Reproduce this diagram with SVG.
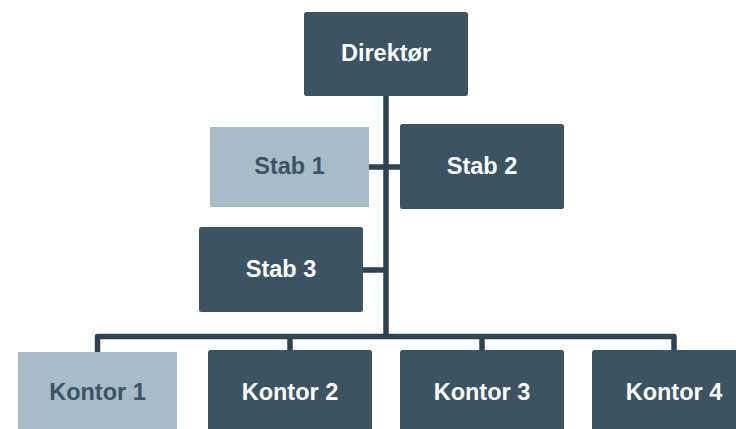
<svg xmlns="http://www.w3.org/2000/svg" width="736" height="429" viewBox="0 0 736 429">
  <style>
    .dark { fill: #3c5364; }
    .light { fill: #a7bccb; }
    .lbl { font-family: "Liberation Sans", Arial, sans-serif; font-weight: bold; font-size: 23.5px; text-anchor: middle; }
    .on-dark { fill: #ffffff; }
    .on-light { fill: #3c5364; }
    .wire { fill: none; stroke: #2e4351; stroke-width: 5.5; stroke-linejoin: round; stroke-linecap: butt; }
  </style>
  <rect width="736" height="429" fill="#ffffff"/>

  <!-- connectors -->
  <g id="connectors">
    <path class="wire" d="M386,96 V339"/>
    <path class="wire" d="M369,167 H400"/>
    <path class="wire" d="M363,270 H386"/>
    <path class="wire" d="M97.5,352 V336.5 H674 V350"/>
    <path class="wire" d="M290,336.5 V350"/>
    <path class="wire" d="M482,336.5 V350"/>
  </g>

  <g id="direktor">
    <rect class="dark" x="304" y="12" width="164" height="84" rx="2.5"/>
    <text class="lbl on-dark" x="386" y="61">Direktør</text>
  </g>

  <g id="stab1">
    <rect class="light" x="210" y="127" width="159" height="80"/>
    <text class="lbl on-light" x="289.5" y="174">Stab 1</text>
  </g>

  <g id="stab2">
    <rect class="dark" x="400" y="124" width="164" height="85" rx="2.5"/>
    <text class="lbl on-dark" x="482" y="174">Stab 2</text>
  </g>

  <g id="stab3">
    <rect class="dark" x="199" y="227" width="164" height="85" rx="2.5"/>
    <text class="lbl on-dark" x="281" y="277">Stab 3</text>
  </g>

  <g id="kontor1">
    <rect class="light" x="18" y="352" width="159" height="90"/>
    <text class="lbl on-light" x="97.5" y="400">Kontor 1</text>
  </g>

  <g id="kontor2">
    <rect class="dark" x="208" y="350" width="164" height="92" rx="2.5"/>
    <text class="lbl on-dark" x="290" y="400">Kontor 2</text>
  </g>

  <g id="kontor3">
    <rect class="dark" x="400" y="350" width="164" height="92" rx="2.5"/>
    <text class="lbl on-dark" x="482" y="400">Kontor 3</text>
  </g>

  <g id="kontor4">
    <rect class="dark" x="592" y="350" width="164" height="92" rx="2.5"/>
    <text class="lbl on-dark" x="674" y="400">Kontor 4</text>
  </g>
</svg>
